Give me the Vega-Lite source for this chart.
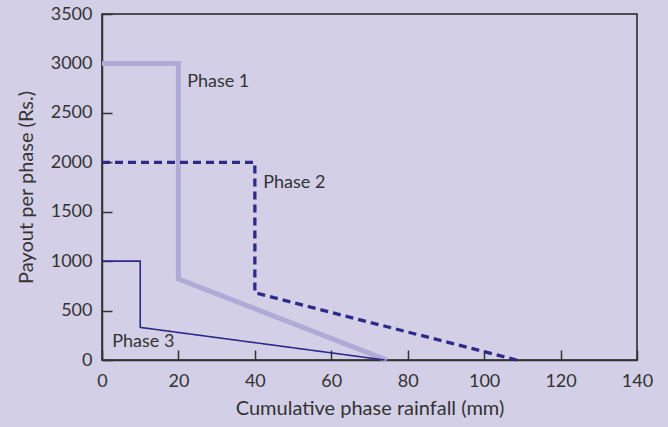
{
  "$schema": "https://vega.github.io/schema/vega-lite/v6.json",
  "width": 535,
  "height": 346,
  "autosize": {"type": "none"},
  "padding": {"left": 102, "top": 14, "right": 31, "bottom": 67},
  "background": "#d3cfe6",
  "config": {
    "view": {"stroke": "#222", "strokeWidth": 1.5},
    "font": "Lato",
    "axis": {
      "domainColor": "#333",
      "domainWidth": 1.5,
      "tickColor": "#333",
      "tickWidth": 1.5,
      "tickSize": -10,
      "labelFontSize": 18,
      "labelColor": "#333",
      "labelFlush": false,
      "labelOverlap": false,
      "format": "d",
      "titleFontSize": 20,
      "titleFontWeight": "normal",
      "titleColor": "#333",
      "grid": false
    }
  },
  "datasets": {
    "lines": [
      {"phase": "Phase 1", "order": 1, "x": 0, "y": 3000},
      {"phase": "Phase 1", "order": 2, "x": 20, "y": 3000},
      {"phase": "Phase 1", "order": 3, "x": 20, "y": 820},
      {"phase": "Phase 1", "order": 4, "x": 74.5, "y": 0},
      {"phase": "Phase 2", "order": 1, "x": 0, "y": 2000},
      {"phase": "Phase 2", "order": 2, "x": 40, "y": 2000},
      {"phase": "Phase 2", "order": 3, "x": 40, "y": 680},
      {"phase": "Phase 2", "order": 4, "x": 108.5, "y": 0},
      {"phase": "Phase 3", "order": 1, "x": 0, "y": 1000},
      {"phase": "Phase 3", "order": 2, "x": 10, "y": 1000},
      {"phase": "Phase 3", "order": 3, "x": 10, "y": 330},
      {"phase": "Phase 3", "order": 4, "x": 74, "y": 0}
    ],
    "labels": [
      {"label": "Phase 1", "x": 22.3, "y": 2810},
      {"label": "Phase 2", "x": 42.2, "y": 1790},
      {"label": "Phase 3", "x": 2.7, "y": 185}
    ]
  },
  "layer": [
    {
      "data": {"name": "lines"},
      "mark": {"type": "line", "strokeJoin": "miter"},
      "encoding": {
        "x": {"field": "x", "type": "quantitative", "scale": {"domain": [0, 140]},
              "axis": {"values": [0,20,40,60,80,100,120,140], "title": "Cumulative phase rainfall (mm)", "labelPadding": 22, "titlePadding": 8}},
        "y": {"field": "y", "type": "quantitative", "scale": {"domain": [0, 3500]},
              "axis": {"values": [0,500,1000,1500,2000,2500,3000,3500], "title": "Payout per phase (Rs.)", "labelPadding": 20, "titlePadding": 14}},
        "detail": {"field": "phase"},
        "order": {"field": "order"},
        "color": {"field": "phase", "scale": {"domain": ["Phase 1", "Phase 2", "Phase 3"], "range": ["#b0abd6", "#2e2a88", "#2e2a88"]}, "legend": null},
        "strokeWidth": {"field": "phase", "scale": {"domain": ["Phase 1", "Phase 2", "Phase 3"], "range": [5, 1.6, 1.3]}, "legend": null},
        "strokeDash": {"field": "phase", "scale": {"domain": ["Phase 1", "Phase 2", "Phase 3"], "range": [[1,0], [8,5], [1,0]]}, "legend": null}
      }
    },
    {
      "data": {"name": "labels"},
      "mark": {"type": "text", "align": "left", "baseline": "middle", "fontSize": 18, "color": "#333"},
      "encoding": {
        "x": {"field": "x", "type": "quantitative"},
        "y": {"field": "y", "type": "quantitative"},
        "text": {"field": "label"}
      }
    }
  ]
}
